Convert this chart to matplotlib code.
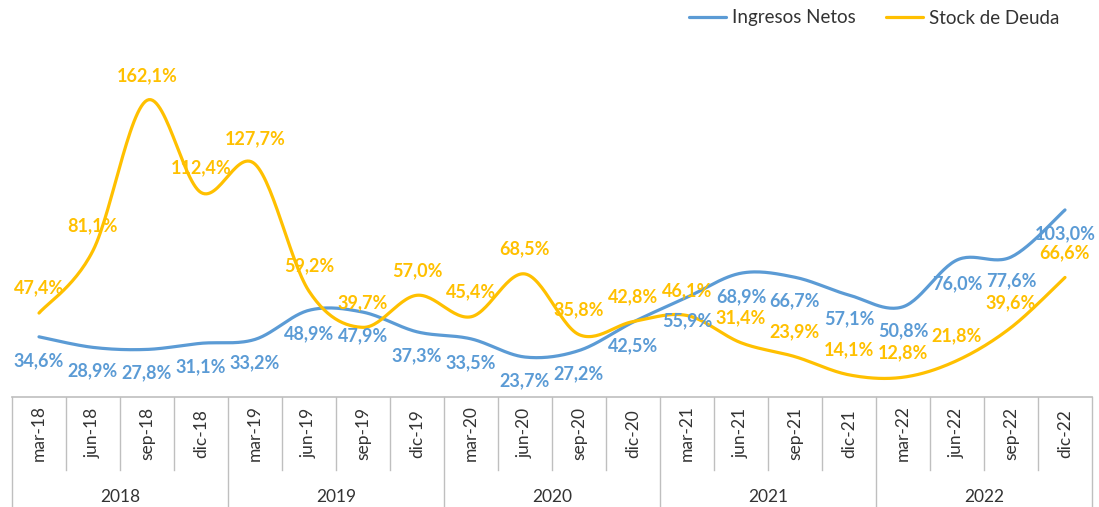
import numpy as np
import matplotlib.pyplot as plt

# data (percent)
quarters = ['mar-18', 'jun-18', 'sep-18', 'dic-18',
            'mar-19', 'jun-19', 'sep-19', 'dic-19',
            'mar-20', 'jun-20', 'sep-20', 'dic-20',
            'mar-21', 'jun-21', 'sep-21', 'dic-21',
            'mar-22', 'jun-22', 'sep-22', 'dic-22']
years = ['2018', '2019', '2020', '2021', '2022']
ingresos = [34.6, 28.9, 27.8, 31.1, 33.2, 48.9, 47.9, 37.3, 33.5, 23.7,
            27.2, 42.5, 55.9, 68.9, 66.7, 57.1, 50.8, 76.0, 77.6, 103.0]
deuda = [47.4, 81.1, 162.1, 112.4, 127.7, 59.2, 39.7, 57.0, 45.4, 68.5,
         35.8, 42.8, 46.1, 31.4, 23.9, 14.1, 12.8, 21.8, 39.6, 66.6]

BLUE = '#5B9BD5'
YELLOW = '#FFC000'
GRID = '#BFBFBF'
TXT = '#333333'


def smooth(x, y, n=30):
    # Excel-style smoothed line (Catmull-Rom through the points)
    p = np.column_stack([x, y]).astype(float)
    p = np.vstack([p[0], p, p[-1]])
    t = np.linspace(0, 1, n)[:, None]
    out = []
    for i in range(1, len(p) - 2):
        p0, p3 = p[i], p[i + 1]
        p1 = p0 + (p[i + 1] - p[i - 1]) / 6
        p2 = p3 - (p[i + 2] - p[i]) / 6
        seg = ((1 - t) ** 3) * p0 + 3 * ((1 - t) ** 2) * t * p1 + 3 * (1 - t) * t ** 2 * p2 + t ** 3 * p3
        out.append(seg)
    out = np.vstack(out)
    return out[:, 0], out[:, 1]


def fmt(v):
    return f'{v:.1f}%'.replace('.', ',')


plt.rcParams['font.family'] = ['Lato', 'DejaVu Sans']

W, H = 1099, 507
fig = plt.figure(figsize=(W / 100, H / 100), dpi=100)
left, right = 12, 1092
zero, top = 401, 30
axis_y = 397
ax = fig.add_axes([left / W, (H - zero) / H, (right - left) / W, (zero - top) / H])

x = np.arange(len(quarters))
xs, ys = smooth(x, ingresos)
ax.plot(xs, ys, color=BLUE, lw=2.3, label='Ingresos Netos', solid_capstyle='round')
xs, ys = smooth(x, deuda)
ax.plot(xs, ys, color=YELLOW, lw=2.3, label='Stock de Deuda', solid_capstyle='round')

for i in x:
    ax.annotate(fmt(ingresos[i]), (i, ingresos[i]), xytext=(0, -17), textcoords='offset points',
                ha='center', va='center', color=BLUE, fontsize=13, fontweight='bold')
    ax.annotate(fmt(deuda[i]), (i, deuda[i]), xytext=(0, 18), textcoords='offset points',
                ha='center', va='center', color=YELLOW, fontsize=13, fontweight='bold')

ax.set_xlim(-0.5, len(quarters) - 0.5)
ax.set_ylim(0, 200)
ax.axis('off')

# two-level category axis
cax = fig.add_axes([left / W, 0, (right - left) / W, (H - axis_y) / H])
cax.set_xlim(-0.5, len(quarters) - 0.5)
cax.set_ylim(0, 1)
cax.axis('off')
cax.axhline(1, color=GRID, lw=1.2, clip_on=False)
split = (H - 470) / (H - axis_y)
for i, q in enumerate(quarters):
    cax.text(i, 0.67, q, rotation=90, ha='center', va='center', fontsize=12.5, color=TXT)
    if i % 4 != 0:
        cax.plot([i - 0.5, i - 0.5], [split, 1], color=GRID, lw=1)
for k, yr in enumerate(years):
    cax.text(4 * k + 1.5, 0.09, yr, ha='center', va='center', fontsize=12.5, color=TXT)
for k in range(len(years) + 1):
    cax.plot([4 * k - 0.5, 4 * k - 0.5], [0, 1], color=GRID, lw=1, clip_on=False)

fig.legend(loc='center', bbox_to_anchor=(874 / W, 1 - 18 / H), ncol=2, frameon=False,
           fontsize=13.5, handlelength=2.0, columnspacing=1.6, handletextpad=0.3,
           labelcolor=TXT)

fig.savefig('out.png', dpi=100)
